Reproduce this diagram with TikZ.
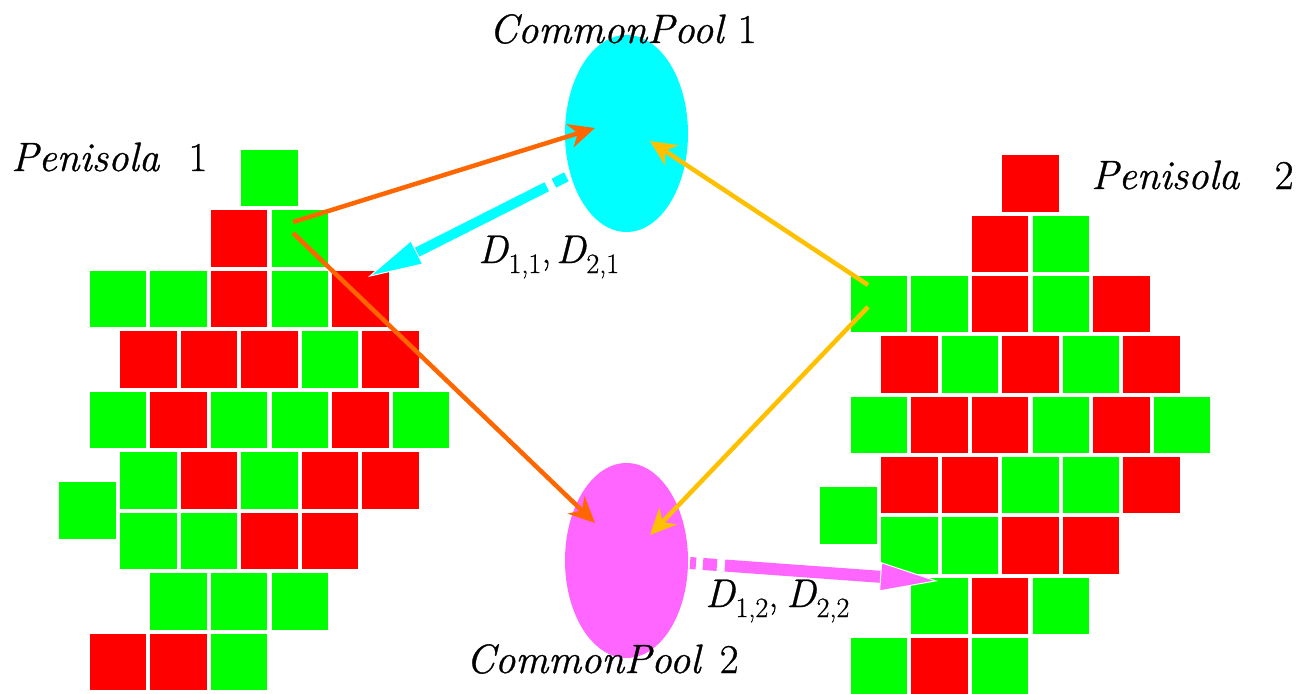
\documentclass[tikz,border=0pt]{standalone}
\usepackage{fontspec}
\newfontfamily\tnr{Latin Modern Roman}[UprightFeatures={FakeBold=0.8},ItalicFeatures={FakeBold=0.8}]
\usetikzlibrary{arrows.meta,shapes.geometric}
\definecolor{cellG}{HTML}{00FF00}
\definecolor{cellR}{HTML}{FF0000}
\definecolor{poolA}{HTML}{00FFFF}
\definecolor{poolB}{HTML}{FF66FF}
\definecolor{flowO}{HTML}{FF6600}
\definecolor{flowY}{HTML}{FFC000}
% D with a lowered, smaller index
\newcommand{\Dlab}[1]{\textit{D}\raisebox{-10pt}{\fontsize{28}{28}\selectfont #1}}
\begin{document}
\begin{tikzpicture}[x=1pt,y=-1pt,
  cell/.style={draw=white,line width=0.6pt,minimum size=57.5pt,inner sep=0pt,outer sep=0pt},
  pool/.style={ellipse,inner sep=0pt,minimum width=123pt},
  lbl/.style={font=\tnr\fontsize{41}{41}\selectfont,inner sep=0pt,anchor=base west},
  dlbl/.style={font=\tnr\fontsize{40}{40}\selectfont,inner sep=0pt,anchor=base west},
  thinflow/.style={line width=4.5pt,-{Stealth[length=26pt,width=24pt,inset=8pt]}},
  thickflow/.style={dash pattern=on 6pt off 7pt on 14pt off 8pt on 2000pt}
]
\useasboundingbox (0,0) rectangle (1313,693);

% left peninsula: column/row/colour
\foreach \c/\r/\k [count=\i] in {
  2.5/0/G,
  2/1/R,3/1/G,
  0/2/G,1/2/G,2/2/R,3/2/G,4/2/R,
  0.5/3/R,1.5/3/R,2.5/3/R,3.5/3/G,4.5/3/R,
  0/4/G,1/4/R,2/4/G,3/4/G,4/4/R,5/4/G,
  0.5/5/G,1.5/5/R,2.5/5/G,3.5/5/R,4.5/5/R,
  -0.5/5.5/G,
  0.5/6/G,1.5/6/G,2.5/6/R,3.5/6/R,
  1/7/G,2/7/G,3/7/G,
  0/8/R,1/8/R,2/8/G}
  \node[cell,fill=cell\k] (L\i) at ({117.75+60.6*\c},{177.75+60.5*\r}) {};

% right peninsula: column/row/colour
\foreach \c/\r/\k [count=\i] in {
  2.5/0/R,
  2/1/R,3/1/G,
  0/2/G,1/2/G,2/2/R,3/2/G,4/2/R,
  0.5/3/R,1.5/3/G,2.5/3/R,3.5/3/G,4.5/3/R,
  0/4/G,1/4/R,2/4/R,3/4/G,4/4/R,5/4/G,
  0.5/5/R,1.5/5/R,2.5/5/G,3.5/5/G,4.5/5/R,
  -0.5/5.5/G,
  0.5/6/G,1.5/6/G,2.5/6/R,3.5/6/R,
  1/7/G,2/7/R,3/7/G,
  0/8/G,1/8/R,2/8/G}
  \node[cell,fill=cell\k] (R\i) at ({878.75+60.6*\c},{183.25+60.35*\r}) {};

% common pools
\node[pool,fill=poolA,minimum height=197pt] (P1) at (626.5,133.5) {};
\node[pool,fill=poolB,minimum height=195pt] (P2) at (626.5,560.5) {};

% titles
\node[lbl] (tP1) at (489,43) {\textit{CommonPool}\hspace{0.3em}1};
\node[lbl] (tP2) at (466,673) {\textit{CommonPool}\hspace{0.42em}2};
\node[lbl] (tL) at (11,171) {\textit{Penisola}\hspace{0.7em}1};
\node[lbl] (tR) at (1091,189) {\textit{Penisola}\hspace{0.85em}2};

% end points of the flows
\coordinate (oA) at ([shift={(-6.5,-16.25)}]L3.center);
\coordinate (oB) at ([shift={(-6.5,-5.25)}]L3.center);
\coordinate (yA) at ([shift={(-10.75,-19)}]R4.center);
\coordinate (yB) at ([shift={(-10.75,3)}]R4.center);
\coordinate (p1o) at ([shift={(-31.5,-5.5)}]P1.center);
\coordinate (p1y) at ([shift={(23.5,7.5)}]P1.center);
\coordinate (p2o) at ([shift={(-31.5,-37.5)}]P2.center);
\coordinate (p2y) at ([shift={(23.5,-25.5)}]P2.center);
\coordinate (cS) at ([shift={(-48.5,37.5)}]P1.center);
\coordinate (cE) at ([shift={(7.85,-21.75)}]L8.center);
\coordinate (mS) at ([shift={(63.5,2.5)}]P2.center);
\coordinate (mE) at ([shift={(-1.35,-24.7)}]R30.center);

% contributions to the pools
\draw[thinflow,flowO] (oA) -- (p1o);
\draw[thinflow,flowO] (oB) -- (p2o);
\draw[thinflow,flowY] (yA) -- (p1y);
\draw[thinflow,flowY] (yB) -- (p2y);

% distributions from the pools
\draw[thickflow,poolA,line width=10pt,
  -{Triangle[length=55pt,width=27pt,line width=1pt,color=white,fill=poolA]}] (cS) -- (cE);
\draw[thickflow,poolB,line width=12pt,
  -{Triangle[length=58pt,width=29pt,line width=1pt,color=white,fill=poolB]}] (mS) -- (mE);

\node[dlbl] (d1) at (478,263) {\Dlab{1,1},\hspace{0.12em}\Dlab{2,1}};
\node[dlbl] (d2) at (705,607) {\Dlab{1,2},\hspace{0.2em}\Dlab{2,2}};
\end{tikzpicture}
\end{document}
